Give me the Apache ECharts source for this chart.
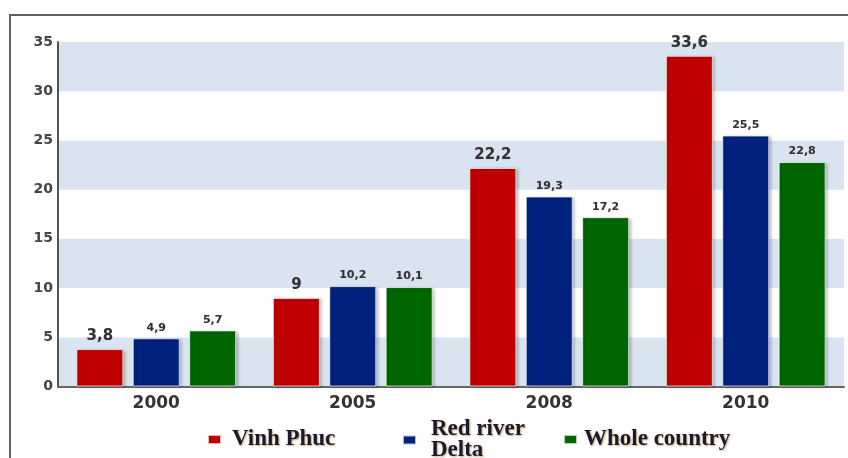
<!DOCTYPE html>
<html>
<head>
<meta charset="utf-8">
<script src="https://cdn.jsdelivr.net/npm/echarts@6/dist/echarts.min.js"></script>
<style>
  html, body { margin: 0; padding: 0; background: #ffffff; }
  #chart { width: 848px; height: 458px; }
</style>
</head>
<body>
<div id="chart"></div>
<script>
// Years on the category axis
const years = ['2000', '2005', '2008', '2010'];
// Series values
const vinhPhuc = [3.8, 9, 22.2, 33.6];
const redRiverDelta = [4.9, 10.2, 19.3, 25.5];
const wholeCountry = [5.7, 10.1, 17.2, 22.8];
// Value-axis tick range
const yMin = 0, yMax = 35, yStep = 5;

const commaFmt = p => String(p.value).replace('.', ',');

const barShadow = {
  borderColor: 'rgba(255,255,255,0.7)',
  borderWidth: 1,
  shadowColor: 'rgba(0,0,0,0.28)',
  shadowBlur: 3,
  shadowOffsetX: 2,
  shadowOffsetY: 1
};

function barSeries(name, data, color, labelSize) {
  return {
    name: name,
    type: 'bar',
    data: data,
    barWidth: 47,
    barGap: '20%',
    itemStyle: Object.assign({ color: color }, barShadow),
    label: {
      show: true,
      position: 'top',
      distance: 5,
      formatter: commaFmt,
      fontFamily: 'DejaVu Sans',
      fontWeight: 'bold',
      fontSize: labelSize,
      color: '#333333',
      textShadowColor: 'rgba(0,0,0,0.2)',
      textShadowBlur: 1
    }
  };
}

const legendText = {
  fontFamily: 'Liberation Serif',
  fontWeight: 'bold',
  fontSize: 23,
  color: '#1b1b30',
  textShadowColor: 'rgba(160,100,20,0.55)',
  textShadowBlur: 2,
  textShadowOffsetX: 1,
  textShadowOffsetY: 1
};

const chart = echarts.init(document.getElementById('chart'));
chart.setOption({
  backgroundColor: '#ffffff',
  animation: false,
  grid: { left: 58, right: 4, top: 42, bottom: 71.5, containLabel: false },
  graphic: [{
    type: 'rect',
    silent: true,
    z: -1,
    shape: { x: 10, y: 15, width: 900, height: 520 },
    style: { fill: 'none', stroke: '#606060', lineWidth: 2 }
  }],
  legend: [
    {
      data: ['Vinh Phuc'], left: 207, top: 424, padding: 0,
      itemWidth: 13, itemHeight: 9, icon: 'rect',
      textStyle: Object.assign({ lineHeight: 23, padding: [0, 0, 8, 6] }, legendText)
    },
    {
      data: ['Red river Delta'], left: 402, top: 418, padding: 0,
      itemWidth: 13, itemHeight: 9, icon: 'rect',
      formatter: () => 'Red river\nDelta',
      textStyle: Object.assign({ lineHeight: 21, padding: [0, 0, 0, 10] }, legendText)
    },
    {
      data: ['Whole country'], left: 563, top: 424, padding: 0,
      itemWidth: 13, itemHeight: 9, icon: 'rect',
      textStyle: Object.assign({ lineHeight: 23, padding: [0, 0, 8, 2] }, legendText)
    }
  ],
  xAxis: {
    type: 'category',
    data: years,
    axisLine: { show: true, lineStyle: { color: '#666666', width: 2 } },
    axisTick: { show: false },
    axisLabel: {
      margin: 9,
      fontFamily: 'DejaVu Sans',
      fontWeight: 'bold',
      fontSize: 17,
      color: '#333333'
    },
    splitLine: { show: false }
  },
  yAxis: {
    type: 'value',
    min: yMin,
    max: yMax,
    interval: yStep,
    axisLine: { show: true, lineStyle: { color: '#555555', width: 2 } },
    axisTick: { show: false },
    axisLabel: {
      margin: 5,
      fontFamily: 'DejaVu Sans',
      fontWeight: 'bold',
      fontSize: 14,
      color: '#444444'
    },
    splitLine: { show: false },
    splitArea: { show: true, areaStyle: { color: ['#d9e4f0', '#ffffff'] } }
  },
  series: [
    barSeries('Vinh Phuc', vinhPhuc, '#c00000', 15),
    barSeries('Red river Delta', redRiverDelta, '#00217e', 11),
    barSeries('Whole country', wholeCountry, '#006600', 11)
  ]
});
</script>
</body>
</html>
